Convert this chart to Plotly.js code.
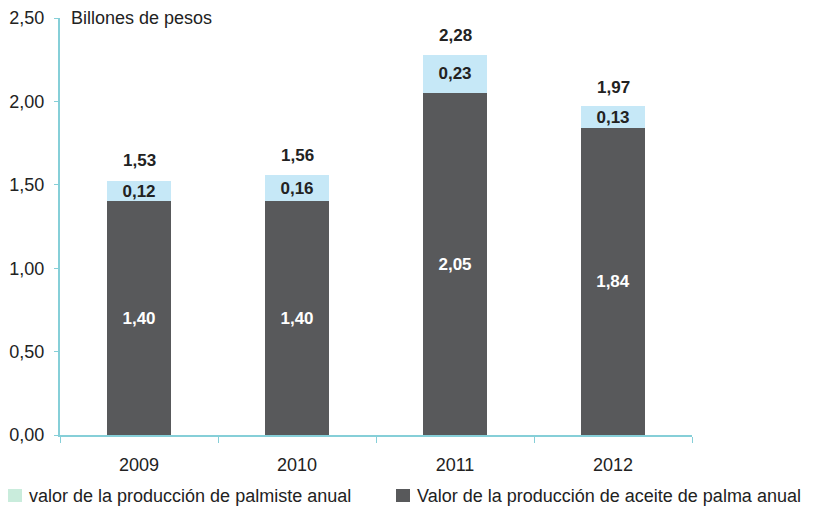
<!DOCTYPE html>
<html>
<head>
<meta charset="utf-8">
<script src="https://cdn.plot.ly/plotly-3.0.1.min.js"></script>
<style>html,body{margin:0;padding:0;background:#fff}#chart{width:815px;height:507px}</style>
</head>
<body>
<div id="chart"></div>
<script>
var years = ['2009', '2010', '2011', '2012'];
var aceite = [1.40, 1.40, 2.05, 1.84];
var palmiste = [0.12, 0.16, 0.23, 0.13];
var totales = [1.53, 1.56, 2.28, 1.97];
var seriesNames = ['valor de la producción de palmiste anual', 'Valor de la producción de aceite de palma anual'];

function fmt(v) { return v.toFixed(2).replace('.', ','); }

var FONT = 'Liberation Sans, Arial, Helvetica, sans-serif';
var DARK = '#58595b';
var LIGHT = '#c6e8f7';
var LEGEND_GREEN = '#c9ecdc';
var AXIS = '#86cfd8';

// plot area in pixels
var ML = 60, MT = 18, PW = 632, PH = 417;
function px(x) { return (x - ML) / PW; }
function py(y) { return (MT + PH - y) / PH; }

var traces = [
  {
    type: 'bar', name: seriesNames[1], showlegend: false,
    x: years, y: aceite, marker: {color: DARK},
    text: aceite.map(fmt), textposition: 'inside', insidetextanchor: 'middle',
    constraintext: 'none',
    textfont: {family: FONT, size: 17, color: '#ffffff', weight: 'bold'}
  },
  {
    type: 'bar', name: seriesNames[0], showlegend: false,
    x: years, y: palmiste, marker: {color: LIGHT},
    text: palmiste.map(fmt), textposition: 'inside', insidetextanchor: 'middle',
    constraintext: 'none',
    textfont: {family: FONT, size: 17, color: '#222222', weight: 'bold'}
  }
];

var annotations = years.map(function (yr, i) {
  return {
    x: i, y: totales[i], xref: 'x', yref: 'y',
    text: '<b>' + fmt(totales[i]) + '</b>', showarrow: false,
    yanchor: 'middle', yshift: 19,
    font: {family: FONT, size: 17, color: '#222222'}
  };
});
annotations.push({
  xref: 'paper', yref: 'paper', x: 0, y: 1, xshift: 9,
  xanchor: 'left', yanchor: 'middle',
  text: 'Billones de pesos', showarrow: false,
  font: {family: FONT, size: 18, color: '#222222'}
});

// legend drawn manually (swatch colour in the reference differs from the bar colour)
var legendSwatchX = [8, 396];
var legendColors = [LEGEND_GREEN, DARK];
var shapes = [];
seriesNames.forEach(function (nm, i) {
  shapes.push({
    type: 'rect', xref: 'paper', yref: 'paper',
    x0: px(legendSwatchX[i]), x1: px(legendSwatchX[i] + 14),
    y0: py(502), y1: py(489),
    fillcolor: legendColors[i], line: {width: 0}
  });
  annotations.push({
    xref: 'paper', yref: 'paper',
    x: px(legendSwatchX[i] + 19), y: py(495.5),
    xanchor: 'left', yanchor: 'middle', showarrow: false,
    text: nm,
    font: {family: FONT, size: 18, color: '#222222'}
  });
});

var layout = {
  width: 815, height: 507,
  margin: {l: ML, r: 815 - ML - PW, t: MT, b: 507 - MT - PH},
  paper_bgcolor: '#ffffff', plot_bgcolor: '#ffffff',
  separators: ',.',
  barmode: 'stack', bargap: 0.6,
  font: {family: FONT, size: 18, color: '#222222'},
  showlegend: false,
  xaxis: {
    type: 'category', range: [-0.5, 3.5],
    showline: true, linecolor: AXIS, linewidth: 2,
    ticks: 'outside', tickson: 'boundaries', ticklen: 6, tickcolor: AXIS,
    showgrid: false, zeroline: false, ticklabelstandoff: 12,
    tickfont: {family: FONT, size: 18, color: '#222222'}
  },
  yaxis: {
    range: [0, 2.5], tickvals: [0, 0.5, 1, 1.5, 2, 2.5], tickformat: '.2f',
    showline: true, linecolor: AXIS, linewidth: 2,
    ticks: 'outside', ticklen: 4, tickcolor: AXIS,
    showgrid: false, zeroline: false, ticklabelstandoff: 6,
    tickfont: {family: FONT, size: 18, color: '#222222'}
  },
  shapes: shapes,
  annotations: annotations
};

Plotly.newPlot('chart', traces, layout, {displayModeBar: false, staticPlot: true});
</script>
</body>
</html>
